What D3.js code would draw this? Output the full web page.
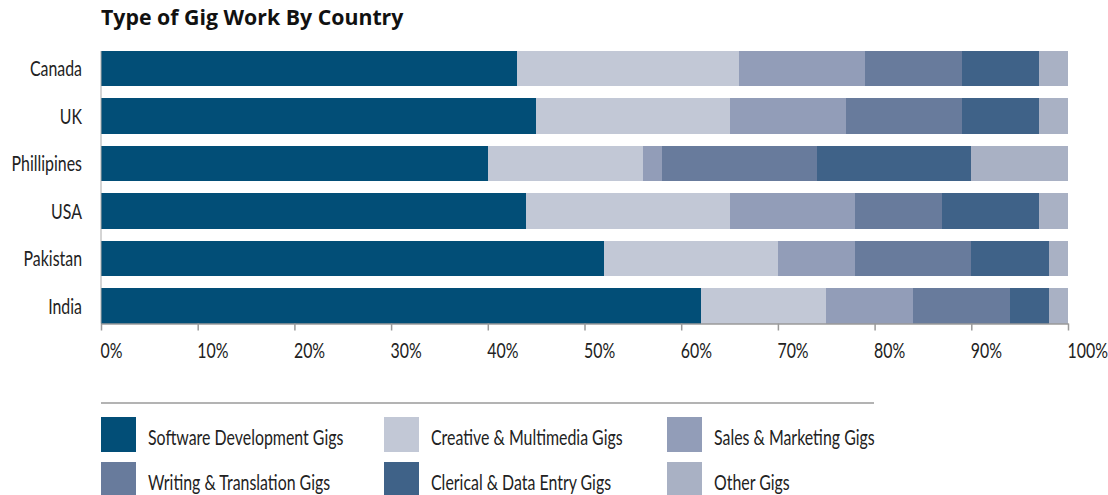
<!DOCTYPE html>
<html>
<head>
<meta charset="utf-8">
<script src="https://cdn.jsdelivr.net/npm/d3@7"></script>
<style>
  html, body { margin: 0; padding: 0; background: #fff; }
  svg { display: block; }
  .lbl { font-family: Lato, "DejaVu Sans Condensed", sans-serif; fill: #222; }
  .title { font-family: "Open Sans", "Noto Sans", sans-serif; font-weight: 700; fill: #111; }
</style>
</head>
<body>
<svg id="chart" width="1108" height="495"></svg>
<script>
const title = "Type of Gig Work By Country";
const countries = ["Canada", "UK", "Phillipines", "USA", "Pakistan", "India"];
const seriesNames = ["Software Development Gigs", "Creative & Multimedia Gigs", "Sales & Marketing Gigs",
                     "Writing & Translation Gigs", "Clerical & Data Entry Gigs", "Other Gigs"];
const software   = [43, 45, 40, 44, 52, 62];
const creative   = [23, 20, 16, 21, 18, 13];
const sales      = [13, 12,  2, 13,  8,  9];
const writing    = [10, 12, 16,  9, 12, 10];
const clerical   = [ 8,  8, 16, 10,  8,  4];
const other      = [ 3,  3, 10,  3,  2,  2];
const tickValues = [0, 10, 20, 30, 40, 50, 60, 70, 80, 90, 100];
const colors = ["#024e77", "#c2c8d6", "#929db8", "#687b9c", "#3f6288", "#a9b1c4"];

const FS = 21.5;   // label font size
const SX = 0.74;   // horizontal condensing factor

const seriesValues = [software, creative, sales, writing, clerical, other];
const rows = countries.map((c, i) => {
  const r = { country: c };
  seriesNames.forEach((s, j) => r[s] = seriesValues[j][i]);
  return r;
});

const svg = d3.select("#chart");
const x = d3.scaleLinear().domain([0, 100]).range([101, 1068]);
const y = d3.scaleBand().domain(countries).range([51, 323.5]).paddingInner(0.263).paddingOuter(0);
const color = d3.scaleOrdinal().domain(seriesNames).range(colors);

svg.append("text").attr("class", "title")
  .attr("x", 101).attr("y", 25).attr("font-size", 21.3).text(title);

const stacked = d3.stack().keys(seriesNames)(rows);
svg.append("g").selectAll("g").data(stacked).join("g")
  .attr("fill", d => color(d.key))
  .selectAll("rect").data(d => d).join("rect")
  .attr("x", d => x(d[0]))
  .attr("width", d => x(d[1]) - x(d[0]))
  .attr("y", d => y(d.data.country))
  .attr("height", y.bandwidth())
  .attr("shape-rendering", "crispEdges");

// y axis
const yAxis = svg.append("g").attr("transform", "translate(101,0)")
  .call(d3.axisLeft(y).tickSize(0));
yAxis.select(".domain").attr("stroke", "#aaa").attr("d", `M0,51V323.5`);
yAxis.selectAll("text").attr("class", "lbl").attr("font-size", FS).attr("font-family", null)
  .attr("fill", "#222").attr("dy", null).attr("y", 7.5)
  .attr("x", -19 / SX).attr("transform", `scale(${SX},1)`);

// x axis
const xAxis = svg.append("g").attr("transform", "translate(0,323.5)")
  .call(d3.axisBottom(x).tickValues(tickValues).tickFormat(d => d + "%").tickSize(7).tickSizeOuter(0));
xAxis.select(".domain").attr("stroke", "#9a9a9a").attr("stroke-width", 1.5);
xAxis.selectAll(".tick line").attr("stroke", "#9a9a9a").attr("stroke-width", 1.5);
xAxis.selectAll("text").attr("class", "lbl").attr("font-size", FS).attr("font-family", null)
  .attr("fill", "#222").attr("text-anchor", "start").attr("dy", null)
  .attr("x", -1 / SX).attr("y", 34.5).attr("transform", `scale(${SX},1)`);

// legend
svg.append("line").attr("x1", 101).attr("x2", 874).attr("y1", 403).attr("y2", 403)
  .attr("stroke", "#9a9a9a").attr("stroke-width", 1.5);
const colX = [101, 384, 667];
const rowY = [417, 462];
const leg = svg.append("g").selectAll("g").data(seriesNames).join("g")
  .attr("transform", (d, i) => `translate(${colX[i % 3]},${rowY[Math.floor(i / 3)]})`);
leg.append("rect").attr("width", 35).attr("height", 35).attr("fill", d => color(d));
leg.append("text").attr("class", "lbl").attr("transform", `translate(47,28) scale(${SX},1)`)
  .attr("font-size", FS).text(d => d);
</script>
</body>
</html>
